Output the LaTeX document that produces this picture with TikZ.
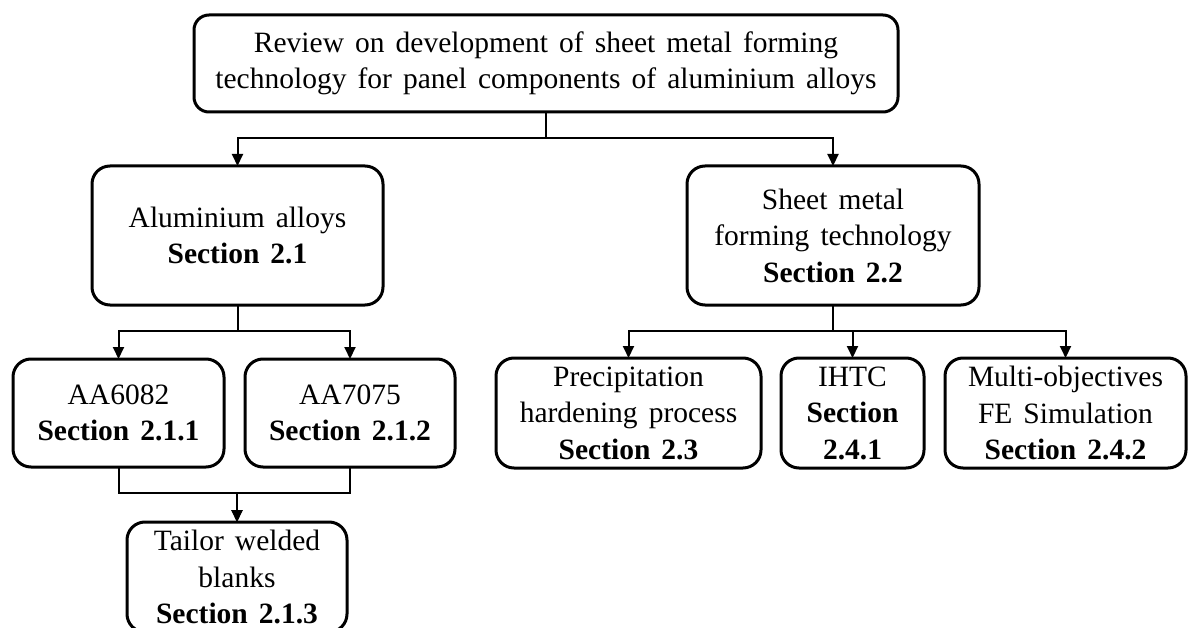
\documentclass[tikz,border=0pt]{standalone}
\usepackage{fontspec}
\setmainfont{Liberation Serif}[WordSpace=1.5]
\usepackage{tikz}
\usetikzlibrary{positioning, arrows.meta}
\tikzstyle{box}=[rectangle, rounded corners=18pt, draw=black, line width=3pt,
                          % The text inside
                          align=center, inner sep=0pt, outer sep=0pt,
                          font=\fontsize{29.5}{36.5}\selectfont]
\tikzstyle{link}=[line width=2pt, -{Triangle[length=12pt, width=11pt]}]

\begin{document}
\begin{tikzpicture}[x=1pt, y=-1pt]
  \useasboundingbox (0,0) rectangle (1190,628);

  % Place the review node on top
  \node[box, minimum width=704pt, minimum height=97pt, rounded corners=15pt] (review) at (546,63.5)
    {Review on development of sheet metal forming\\technology for panel components of aluminium alloys};

  % Place the two topic nodes on the second row
  \node[box, minimum width=291pt, minimum height=139pt] (alloys) at (237.5,235.5)
    {Aluminium alloys\\\textbf{Section 2.1}};
  \node[box, minimum width=292pt, minimum height=139pt] (forming) at (833,235.5)
    {Sheet metal\\forming technology\\\textbf{Section 2.2}};

  % Place the sub-topic nodes on the third row
  \node[box, minimum width=211pt, minimum height=108pt] (aa6082) at (118.5,413)
    {AA6082\\\textbf{Section 2.1.1}};
  \node[box, minimum width=210pt, minimum height=108pt, right = 21pt of aa6082] (aa7075)
    {AA7075\\\textbf{Section 2.1.2}};
  \node[box, minimum width=265pt, minimum height=110pt] (precip) at (628.5,413)
    {Precipitation\\hardening process\\\textbf{Section 2.3}};
  \node[box, minimum width=143pt, minimum height=110pt, right = 20pt of precip] (ihtc)
    {IHTC\\\textbf{Section}\\\textbf{2.4.1}};
  \node[box, minimum width=241pt, minimum height=110pt, right = 21pt of ihtc] (multi)
    {Multi-objectives\\FE Simulation\\\textbf{Section 2.4.2}};

  % Place the welded blanks node at the bottom
  \node[box, minimum width=220pt, minimum height=110pt] (tailor) at (237,577)
    {Tailor welded\\blanks\\\textbf{Section 2.1.3}};

\draw[link] (review.south) -- ++(0,26) -| (alloys.north);
\draw[link] (review.south) -- ++(0,26) -| (forming.north);

\draw[link] (alloys.south) -- ++(0,26) -| (aa6082.north);
\draw[link] (alloys.south) -- ++(0,26) -| (aa7075.north);

\draw[link] (forming.south) -- ++(0,26) -| (precip.north);
\draw[link] (forming.south) -- ++(0,26) -| (ihtc.north);
\draw[link] (forming.south) -- ++(0,26) -| (multi.north);

\draw[link] (aa6082.south) -- ++(0,26) -| (tailor.north);
\draw[link] (aa7075.south) -- ++(0,26) -| (tailor.north);
  % \draw[link] (alloys) -- (tailor);

\end{tikzpicture}
\end{document}
